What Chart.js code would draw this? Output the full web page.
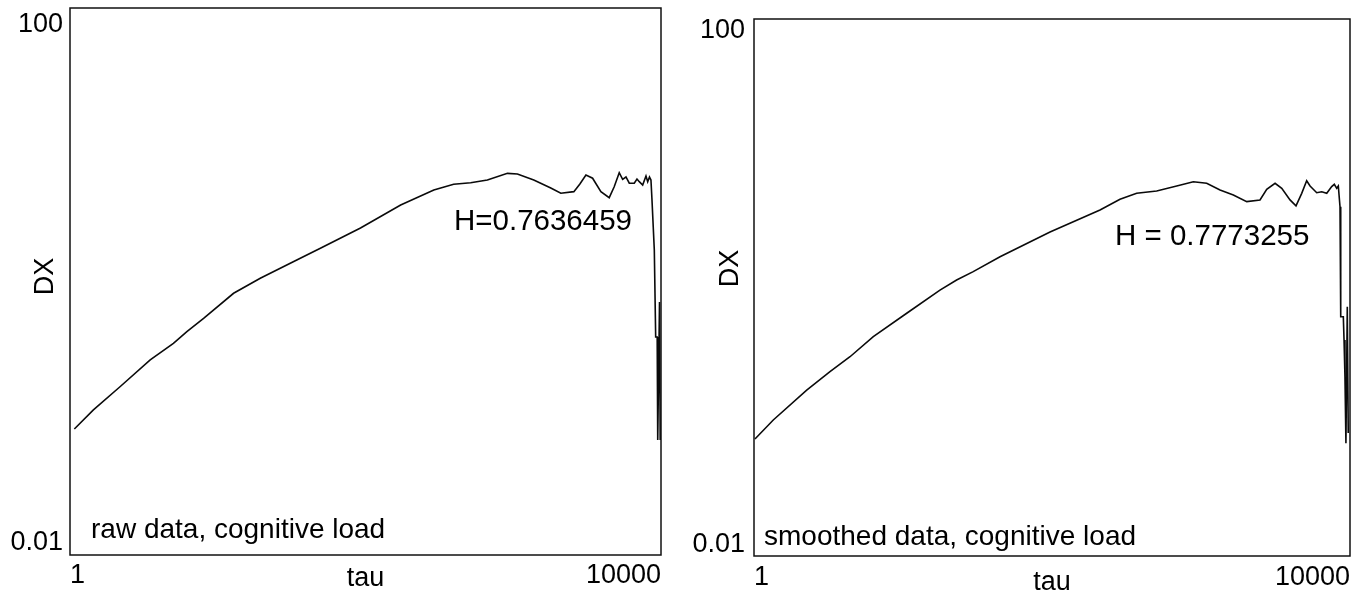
<!DOCTYPE html>
<html>
<head>
<meta charset="utf-8">
<script src="https://cdn.jsdelivr.net/npm/chart.js@4.4.0/dist/chart.umd.min.js"></script>
<style>
  html, body { margin: 0; padding: 0; background: #fff; }
  #wrap { position: relative; width: 1369px; height: 602px; overflow: hidden; }
  canvas { position: absolute; top: 0; }
  #rawChart { left: 0; }
  #smoothChart { left: 684px; }
</style>
</head>
<body>
<div id="wrap">
  <canvas id="rawChart" width="684" height="602"></canvas>
  <canvas id="smoothChart" width="685" height="602"></canvas>
</div>
<script>
const FONT = '"Liberation Sans", Arial, Helvetica, sans-serif';

// Diffusion plot, raw signal: lag tau vs. mean squared displacement DX
const tauRaw = [1.07, 1.44, 2.18, 3.49, 5.01, 6.18, 8.02, 12.8, 19.4, 32.7, 49.5, 92.5, 173, 290, 395, 515, 668, 914, 1067, 1377,
  1795, 2099, 2572, 2825, 3104, 3444, 3919, 4462, 4823, 5216, 5500, 5794, 6100, 6592, 6878, 7129, 7515, 7914, 8128, 8356,
  8551, 8690, 9010, 9204, 9423, 9423, 9543, 9543, 9772, 9877];
const dxRaw = [0.0834, 0.115, 0.170, 0.267, 0.353, 0.430, 0.538, 0.820, 1.055, 1.40, 1.75, 2.46, 3.63, 4.67, 5.14, 5.28, 5.52, 6.18, 6.11, 5.52,
  4.83, 4.42, 4.54, 5.16, 6.01, 5.69, 4.54, 4.10, 4.93, 6.25, 5.59, 5.81, 5.23, 5.23, 5.62, 5.37, 5.08, 5.91, 5.37, 5.81,
  5.52, 3.94, 1.70, 0.393, 0.393, 0.226, 0.226, 0.0693, 0.708, 0.0693];

// Same analysis on the smoothed signal
const tauSmooth = [1.015, 1.347, 2.258, 3.236, 4.41, 6.32, 10.59, 17.7, 22.9, 29.6, 44.8, 97, 210, 286, 370, 504, 687, 888, 1092, 1342,
  1648, 2027, 2489, 2761, 3141, 3483, 3958, 4341, 4742, 5119, 5395, 5980, 6460, 6982, 7535, 7849, 8142, 8348, 8570, 8665,
  9020, 9120, 9250, 9390, 9590, 9730];
const dxSmooth = [0.0744, 0.103, 0.172, 0.236, 0.305, 0.430, 0.643, 0.957, 1.137, 1.312, 1.696, 2.59, 3.78, 4.54, 5.03, 5.24, 5.70, 6.14, 5.97, 5.32,
  4.89, 4.36, 4.49, 5.39, 5.97, 5.48, 4.49, 4.06, 5.03, 6.24, 5.70, 5.08, 5.17, 5.03, 5.64, 5.87, 5.48, 5.70, 4.00, 0.606,
  0.606, 0.406, 0.217, 0.0691, 0.719, 0.0824];

const xTicks = [1, 10000];
const xTickLabels = ['1', '10000'];
const yTicks = [0.01, 100];
const yTickLabels = ['0.01', '100'];

const hurstRaw = 'H=0.7636459';
const hurstSmooth = 'H = 0.7773255';
const captionRaw = 'raw data, cognitive load';
const captionSmooth = 'smoothed data, cognitive load';

// Box around the plot area, rotated y title and in-plot notes
const panelDecor = {
  id: 'panelDecor',
  afterDraw(chart, args, opts) {
    const { ctx, chartArea: a } = chart;
    ctx.save();
    ctx.strokeStyle = '#111';
    ctx.lineWidth = 1.5;
    ctx.strokeRect(a.left, a.top, a.right - a.left, a.bottom - a.top);

    ctx.fillStyle = '#000';
    ctx.font = '27px ' + FONT;
    ctx.save();
    ctx.translate(a.left + opts.yTitle.x, a.top + opts.yTitle.y);
    ctx.rotate(-Math.PI / 2);
    ctx.textAlign = 'center';
    ctx.textBaseline = 'middle';
    ctx.fillText(opts.yTitle.text, 0, 0);
    ctx.restore();

    ctx.textAlign = 'left';
    ctx.textBaseline = 'alphabetic';
    for (const n of opts.notes) {
      ctx.font = n.size + 'px ' + FONT;
      ctx.fillText(n.text, a.left + n.x, a.top + n.y);
    }
    ctx.restore();
  }
};

function makePanel(canvasId, tau, dx, cfg) {
  const points = tau.map((t, i) => ({ x: t, y: dx[i] }));
  return new Chart(document.getElementById(canvasId), {
    type: 'scatter',
    data: {
      datasets: [{
        data: points,
        showLine: true,
        borderColor: '#0a0a0a',
        borderWidth: 1.6,
        pointRadius: 0,
        tension: 0,
        fill: false
      }]
    },
    options: {
      responsive: false,
      animation: false,
      devicePixelRatio: 1,
      layout: { padding: { left: 0, right: cfg.padRight, top: cfg.padTop, bottom: 0 } },
      plugins: {
        legend: { display: false },
        tooltip: { enabled: false },
        panelDecor: { yTitle: cfg.yTitle, notes: cfg.notes }
      },
      scales: {
        x: {
          type: 'logarithmic',
          position: 'bottom',
          min: 1,
          max: 10000,
          grid: { display: false, drawTicks: false },
          border: { display: false },
          afterBuildTicks: s => { s.ticks = xTicks.map(v => ({ value: v })); },
          afterFit: s => { s.height = cfg.xHeight; s.paddingLeft = 0; s.paddingRight = 0; },
          ticks: {
            align: 'inner',
            autoSkip: false,
            maxRotation: 0,
            minRotation: 0,
            padding: cfg.xTickPad,
            color: '#000',
            font: { family: FONT, size: 27 },
            callback: (v, i) => xTickLabels[i]
          },
          title: {
            display: true,
            text: 'tau',
            color: '#000',
            font: { family: FONT, size: 27 },
            padding: { top: 0, bottom: cfg.xTitlePad }
          }
        },
        y: {
          type: 'logarithmic',
          position: 'left',
          min: 0.01,
          max: 100,
          grid: { display: false, drawTicks: false },
          border: { display: false },
          afterBuildTicks: s => { s.ticks = yTicks.map(v => ({ value: v })); },
          afterFit: s => { s.width = 70; s.paddingTop = 0; s.paddingBottom = 0; },
          ticks: {
            autoSkip: false,
            padding: cfg.yTickPad,
            color: '#000',
            // end labels sit just inside the axis range
            callback: (v, i) => (i === 0 ? [yTickLabels[0], ''] : ['', yTickLabels[1]]),
            font: ctx => ({
              family: FONT,
              size: 27,
              lineHeight: (ctx.index === 0 ? cfg.yLabelShift[0] : cfg.yLabelShift[1]) + 'px'
            })
          }
        }
      }
    },
    plugins: [panelDecor]
  });
}

makePanel('rawChart', tauRaw, dxRaw, {
  padRight: 23, padTop: 8, xHeight: 47, xTickPad: 4, xTitlePad: 7, yTickPad: 7,
  yLabelShift: [24, 34],
  yTitle: { text: 'DX', x: -24.5, y: 268.5 },
  notes: [
    { text: hurstRaw, x: 384, y: 222, size: 29.5 },
    { text: captionRaw, x: 21, y: 530, size: 28 }
  ]
});

makePanel('smoothChart', tauSmooth, dxSmooth, {
  padRight: 19, padTop: 19, xHeight: 46, xTickPad: 5, xTitlePad: 3, yTickPad: 9,
  yLabelShift: [22, 23],
  yTitle: { text: 'DX', x: -23, y: 249.5 },
  notes: [
    { text: hurstSmooth, x: 361, y: 226, size: 29.5 },
    { text: captionSmooth, x: 10, y: 526, size: 28 }
  ]
});
</script>
</body>
</html>
